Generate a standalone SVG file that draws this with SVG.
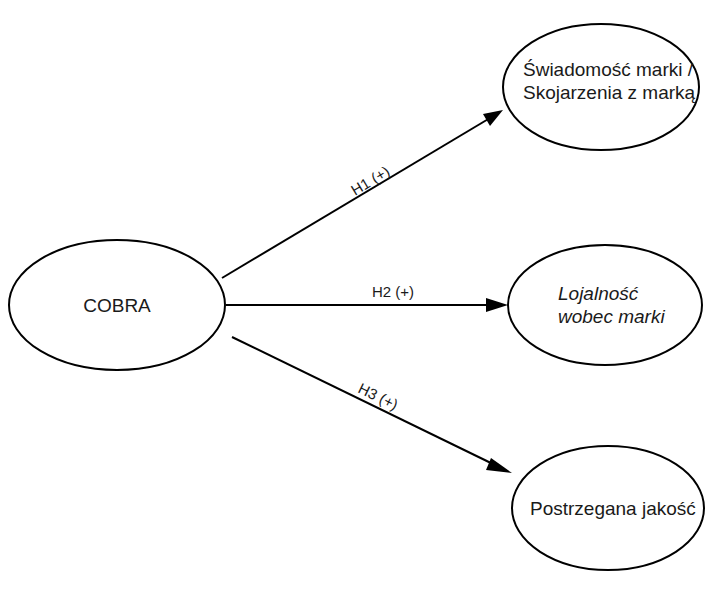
<svg xmlns="http://www.w3.org/2000/svg" width="712" height="590" viewBox="0 0 712 590">
<style>
.n{fill:#fff;stroke:#000;stroke-width:2}
.t{font-family:"Liberation Sans",Arial,sans-serif;font-size:19px;fill:#1a1a1a}
.l{font-family:"Liberation Sans",Arial,sans-serif;font-size:15px;fill:#1a1a1a}
.c{stroke:#000;stroke-width:2;fill:none}
.h{fill:#000}
</style>
<rect width="712" height="590" fill="#fff"/>
<g id="connectors">
<line class="c" x1="222" y1="278" x2="490" y2="118"/>
<path class="h" d="M503,110 L483,114 L490,126 z"/>
<line class="c" x1="226" y1="305" x2="490" y2="305"/>
<path class="h" d="M508,305 L486,298 L486,312 z"/>
<line class="c" x1="232" y1="337" x2="495" y2="465"/>
<path class="h" d="M512,473 L491,458 L486,470 z"/>
<text class="l" transform="translate(355,196) rotate(-30.9)">H1 (+)</text>
<text class="l" x="372" y="297">H2 (+)</text>
<text class="l" transform="translate(357,392) rotate(25.9)">H3 (+)</text>
</g>
<g id="cobra">
<ellipse class="n" cx="117" cy="305" rx="108" ry="65"/>
<text class="t" x="117" y="312" text-anchor="middle">COBRA</text>
</g>
<g id="swiadomosc">
<ellipse class="n" cx="601" cy="87" rx="98" ry="63"/>
<text class="t" x="523" y="76">Świadomość marki /</text>
<text class="t" x="523" y="99">Skojarzenia z marką</text>
</g>
<g id="lojalnosc">
<ellipse class="n" cx="605" cy="305" rx="97" ry="60"/>
<text class="t" x="558" y="300" font-style="italic">Lojalność</text>
<text class="t" x="558" y="323" font-style="italic">wobec marki</text>
</g>
<g id="jakosc">
<ellipse class="n" cx="608" cy="508" rx="96" ry="62"/>
<text class="t" x="530" y="515">Postrzegana jakość</text>
</g>
</svg>
